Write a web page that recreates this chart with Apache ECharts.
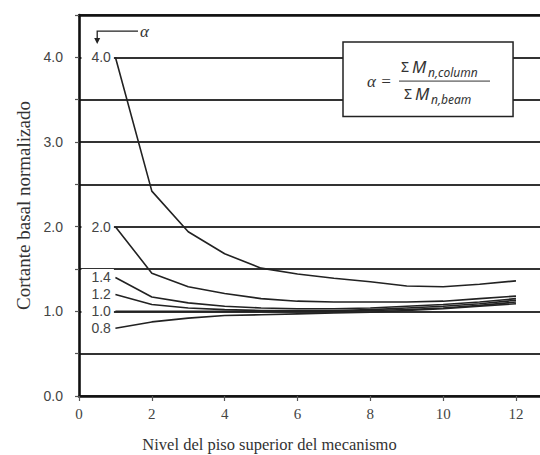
<!DOCTYPE html>
<html>
<head>
<meta charset="utf-8">
<script src="https://cdn.jsdelivr.net/npm/echarts@6/dist/echarts.min.js"></script>
<style>
html,body{margin:0;padding:0;background:#fff;}
#main{width:540px;height:455px;}
</style>
</head>
<body>
<div id="main"></div>
<script>
// nivel del piso superior del mecanismo
const pisos = [1, 2, 3, 4, 5, 6, 7, 8, 9, 10, 11, 12];

// cortante basal normalizado, una lista por cada alfa
const alfa40 = [4.0, 2.42, 1.94, 1.68, 1.51, 1.44, 1.39, 1.35, 1.30, 1.29, 1.32, 1.36];
const alfa20 = [2.0, 1.45, 1.29, 1.21, 1.15, 1.12, 1.11, 1.11, 1.11, 1.12, 1.15, 1.18];
const alfa14 = [1.4, 1.17, 1.10, 1.06, 1.04, 1.03, 1.03, 1.04, 1.06, 1.08, 1.11, 1.15];
const alfa12 = [1.2, 1.08, 1.04, 1.02, 1.01, 1.01, 1.01, 1.02, 1.04, 1.06, 1.09, 1.13];
const alfa10 = [1.0, 1.0, 1.0, 1.0, 1.0, 1.0, 1.0, 1.01, 1.02, 1.04, 1.07, 1.11];
const alfa08 = [0.8, 0.875, 0.92, 0.95, 0.96, 0.97, 0.98, 0.99, 1.01, 1.03, 1.06, 1.09];

const etiquetasAlfa = ['4.0', '2.0', '1.4', '1.2', '1.0', '0.8'];
const curvas = [alfa40, alfa20, alfa14, alfa12, alfa10, alfa08];

const tituloX = 'Nivel del piso superior del mecanismo';
const tituloY = 'Cortante basal normalizado';

const chart = echarts.init(document.getElementById('main'), null, {renderer: 'svg'});

const series = curvas.map((valores, i) => ({
    name: etiquetasAlfa[i],
    type: 'line',
    symbol: 'none',
    z: 3,
    lineStyle: {color: '#222', width: 1.6},
    data: pisos.map((p, j) => {
        if (j > 0) return [p, valores[j]];
        // primer punto: lleva la etiqueta del alfa
        return {
            value: [p, valores[j]],
            symbol: 'circle',
            symbolSize: 1,
            itemStyle: {color: 'rgba(0,0,0,0)'},
            label: {
                show: true,
                position: 'left',
                distance: 1,
                formatter: etiquetasAlfa[i],
                backgroundColor: '#fff',
                lineHeight: 14,
                padding: i === 2 ? [3, 3, 0, 10] : [0, 3, 0, 10],
                color: '#444',
                fontFamily: 'Liberation Sans',
                fontSize: 14
            }
        };
    })
}));

const ejeX = {
    type: 'value',
    min: 0, max: 12.66, interval: 2,
    axisLine: {show: true, onZero: false, lineStyle: {color: '#111', width: 2.6}},
    splitLine: {show: false}
};

const option = {
    backgroundColor: '#fff',
    animation: false,
    grid: {left: 79, right: 0, top: 15, bottom: 59, outerBoundsMode: 'none'},
    xAxis: [
        Object.assign({}, ejeX, {
            position: 'bottom',
            name: tituloX,
            nameLocation: 'middle',
            nameGap: 40,
            nameTextStyle: {fontFamily: 'Liberation Serif', fontSize: 16.5, color: '#333', padding: [0, 80, 0, 0]},
            axisTick: {show: true, length: 5, lineStyle: {color: '#555', width: 1.2}},
            axisLabel: {margin: 10, color: '#444', fontFamily: 'Liberation Serif', fontSize: 15}
        }),
        Object.assign({}, ejeX, {
            position: 'top',
            axisTick: {show: false},
            axisLabel: {show: false}
        })
    ],
    yAxis: {
        type: 'value',
        min: 0, max: 4.5, interval: 0.5,
        name: tituloY,
        nameLocation: 'middle',
        nameGap: 45,
        nameTextStyle: {fontFamily: 'Liberation Serif', fontSize: 19, color: '#333'},
        axisLine: {show: true, lineStyle: {color: '#111', width: 2.6}},
        axisTick: {show: true, length: 4, lineStyle: {color: '#555', width: 1.2}},
        axisLabel: {
            margin: 16, color: '#444', fontFamily: 'Liberation Sans', fontSize: 14,
            formatter: v => (Math.abs(v % 1) < 1e-9 && v < 4.5 ? v.toFixed(1) : '')
        },
        splitLine: {show: true, lineStyle: {color: '#333', width: 2}}
    },
    series: series
};

chart.setOption(option);

// anotaciones: flecha de alfa y recuadro con la formula
const px = (x, y) => chart.convertToPixel({gridIndex: 0}, [x, y]);
const flechaIni = px(1.62, 4.31);
const flechaEsq = px(0.5, 4.31);
const flechaFin = px(0.5, 4.17);
const cajaA = px(7.25, 4.18);
const cajaB = px(11.92, 3.30);
const bx = cajaA[0], by = cajaA[1];
const bw = cajaB[0] - cajaA[0], bh = cajaB[1] - cajaA[1];

chart.setOption({
    graphic: [
        {
            type: 'polyline', z: 10,
            shape: {points: [flechaIni, flechaEsq, [flechaEsq[0], flechaFin[1] - 4]]},
            style: {stroke: '#222', lineWidth: 1.3, fill: null}
        },
        {
            type: 'polygon', z: 10,
            shape: {points: [[flechaFin[0] - 3, flechaFin[1] - 5], [flechaFin[0] + 3, flechaFin[1] - 5], [flechaFin[0], flechaFin[1] + 1]]},
            style: {fill: '#222'}
        },
        {
            type: 'text', z: 10,
            x: flechaIni[0] + 2, y: flechaIni[1],
            style: {text: 'α', font: 'italic 17px "Liberation Serif"', fill: '#333', textVerticalAlign: 'middle'}
        },
        {
            type: 'group', z: 10, x: bx, y: by,
            children: [
                {type: 'rect', shape: {x: 0, y: 0, width: bw, height: bh}, style: {fill: '#fff', stroke: '#222', lineWidth: 1.5}},
                {type: 'text', x: 24, y: 39, style: {text: 'α =', font: 'italic 17px "Liberation Serif"', fill: '#333', textVerticalAlign: 'middle'}},
                {type: 'text', x: 58, y: 24, style: {text: 'Σ', font: '14px "Noto Sans"', fill: '#333', textVerticalAlign: 'middle'}},
                {type: 'text', x: 69, y: 24, style: {text: 'M', font: 'italic 17px "Noto Sans"', fill: '#333', textVerticalAlign: 'middle'}},
                {type: 'text', x: 85, y: 30, style: {text: 'n,column', font: 'italic 12px "Noto Sans"', fill: '#333', textVerticalAlign: 'middle'}},
                {type: 'line', shape: {x1: 56, y1: 39, x2: 147, y2: 39}, style: {stroke: '#333', lineWidth: 1}},
                {type: 'text', x: 61, y: 51, style: {text: 'Σ', font: '14px "Noto Sans"', fill: '#333', textVerticalAlign: 'middle'}},
                {type: 'text', x: 72, y: 51, style: {text: 'M', font: 'italic 17px "Noto Sans"', fill: '#333', textVerticalAlign: 'middle'}},
                {type: 'text', x: 88, y: 57, style: {text: 'n,beam', font: 'italic 12px "Noto Sans"', fill: '#333', textVerticalAlign: 'middle'}}
            ]
        }
    ]
});
</script>
</body>
</html>
